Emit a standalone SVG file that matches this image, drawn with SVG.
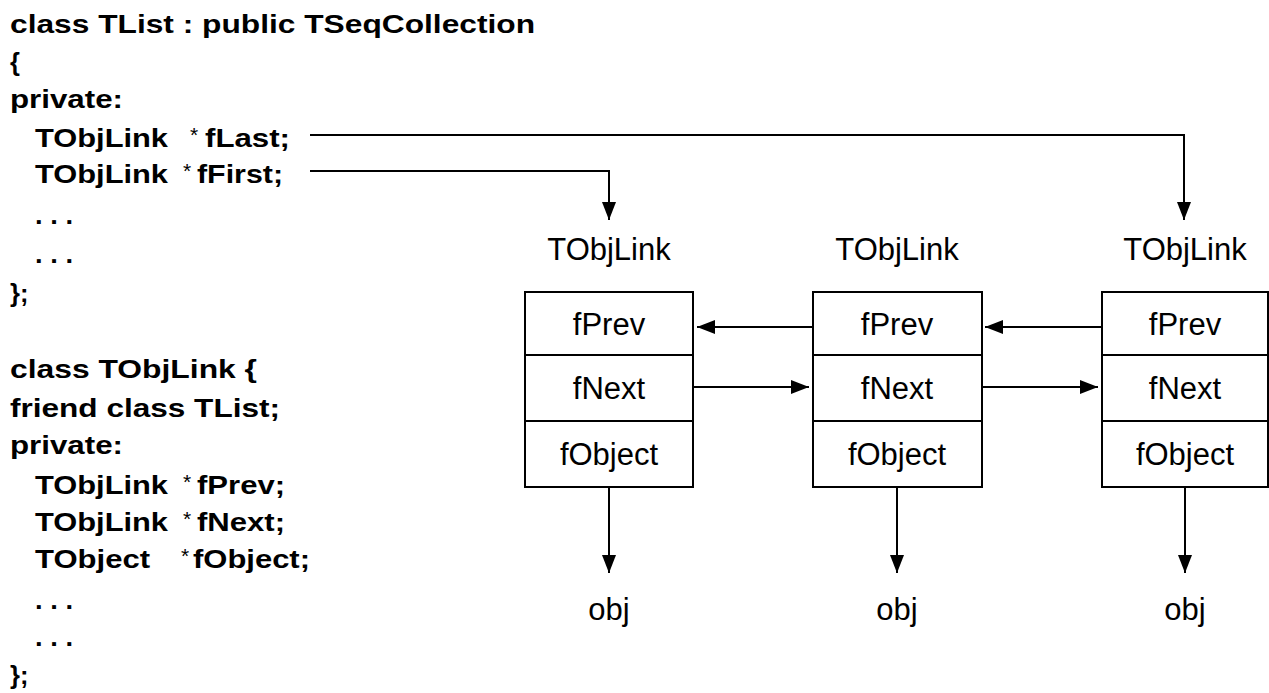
<svg xmlns="http://www.w3.org/2000/svg" width="1269" height="693" viewBox="0 0 1269 693">
<style>
.code{font-family:"Liberation Sans",Arial,sans-serif;font-weight:bold;font-size:25.5px;fill:#000}
.ast{font-family:"Liberation Sans",Arial,sans-serif;font-weight:normal;font-size:21px;fill:#000}
.lbl{font-family:"Liberation Sans",Arial,sans-serif;font-size:31px;fill:#000;text-anchor:middle}
.box{fill:#fff;stroke:#000;stroke-width:2}
.div{stroke:#000;stroke-width:2}
.con{fill:none;stroke:#000;stroke-width:2;marker-end:url(#ah)}
</style>
<defs>
<marker id="ah" viewBox="0 0 18 14" refX="18" refY="7" markerWidth="18" markerHeight="14" orient="auto" markerUnits="userSpaceOnUse">
<path d="M0,0 L18,7 L0,14 z" fill="#000"/>
</marker>
</defs>
<rect width="1269" height="693" fill="#fff"/>
<g id="code-tlist">
<text class="code" x="10" y="33" textLength="525" lengthAdjust="spacingAndGlyphs">class TList : public TSeqCollection</text>
<text class="code" x="10" y="71">{</text>
<text class="code" x="10" y="108" textLength="113" lengthAdjust="spacingAndGlyphs">private:</text>
<text class="code" x="35" y="147" textLength="133" lengthAdjust="spacingAndGlyphs">TObjLink</text>
<text class="ast" x="190" y="142">*</text>
<text class="code" x="205" y="147" textLength="85" lengthAdjust="spacingAndGlyphs">fLast;</text>
<text class="code" x="35" y="183" textLength="133" lengthAdjust="spacingAndGlyphs">TObjLink</text>
<text class="ast" x="183" y="178">*</text>
<text class="code" x="197" y="183" textLength="86" lengthAdjust="spacingAndGlyphs">fFirst;</text>
<text class="code" x="35" y="224" textLength="38" lengthAdjust="spacingAndGlyphs">. . .</text>
<text class="code" x="35" y="263" textLength="38" lengthAdjust="spacingAndGlyphs">. . .</text>
<text class="code" x="10" y="302">};</text>
</g>
<g id="code-tobjlink">
<text class="code" x="10" y="378" textLength="247" lengthAdjust="spacingAndGlyphs">class TObjLink {</text>
<text class="code" x="10" y="417" textLength="270" lengthAdjust="spacingAndGlyphs">friend class TList;</text>
<text class="code" x="10" y="454" textLength="113" lengthAdjust="spacingAndGlyphs">private:</text>
<text class="code" x="35" y="494" textLength="133" lengthAdjust="spacingAndGlyphs">TObjLink</text>
<text class="ast" x="183" y="489">*</text>
<text class="code" x="197" y="494" textLength="88" lengthAdjust="spacingAndGlyphs">fPrev;</text>
<text class="code" x="35" y="531" textLength="133" lengthAdjust="spacingAndGlyphs">TObjLink</text>
<text class="ast" x="183" y="526">*</text>
<text class="code" x="197" y="531" textLength="88" lengthAdjust="spacingAndGlyphs">fNext;</text>
<text class="code" x="35" y="568" textLength="115" lengthAdjust="spacingAndGlyphs">TObject</text>
<text class="ast" x="181" y="563">*</text>
<text class="code" x="193" y="568" textLength="117" lengthAdjust="spacingAndGlyphs">fObject;</text>
<text class="code" x="35" y="609" textLength="38" lengthAdjust="spacingAndGlyphs">. . .</text>
<text class="code" x="35" y="646" textLength="38" lengthAdjust="spacingAndGlyphs">. . .</text>
<text class="code" x="10" y="684">};</text>
</g>
<g id="link1">
<text class="lbl" x="609" y="260">TObjLink</text>
<rect class="box" x="525" y="292" width="168" height="195"/>
<line class="div" x1="525" y1="355" x2="693" y2="355"/>
<line class="div" x1="525" y1="421" x2="693" y2="421"/>
<text class="lbl" x="609" y="335">fPrev</text>
<text class="lbl" x="609" y="399">fNext</text>
<text class="lbl" x="609" y="465">fObject</text>
</g>
<g id="link2">
<text class="lbl" x="897" y="260">TObjLink</text>
<rect class="box" x="813" y="292" width="169" height="195"/>
<line class="div" x1="813" y1="355" x2="982" y2="355"/>
<line class="div" x1="813" y1="421" x2="982" y2="421"/>
<text class="lbl" x="897" y="335">fPrev</text>
<text class="lbl" x="897" y="399">fNext</text>
<text class="lbl" x="897" y="465">fObject</text>
</g>
<g id="link3">
<text class="lbl" x="1185" y="260">TObjLink</text>
<rect class="box" x="1102" y="292" width="166" height="195"/>
<line class="div" x1="1102" y1="355" x2="1268" y2="355"/>
<line class="div" x1="1102" y1="421" x2="1268" y2="421"/>
<text class="lbl" x="1185" y="335">fPrev</text>
<text class="lbl" x="1185" y="399">fNext</text>
<text class="lbl" x="1185" y="465">fObject</text>
</g>
<g id="obj1"><text class="lbl" x="609" y="620">obj</text></g>
<g id="obj2"><text class="lbl" x="897" y="620">obj</text></g>
<g id="obj3"><text class="lbl" x="1185" y="620">obj</text></g>
<g id="connectors">
<path class="con" d="M310,135 H1184 V220"/>
<path class="con" d="M310,171 H609 V220"/>
<path class="con" d="M813,327 H697"/>
<path class="con" d="M1102,327 H985"/>
<path class="con" d="M693,387 H809"/>
<path class="con" d="M982,387 H1098"/>
<path class="con" d="M609,487 V573"/>
<path class="con" d="M897,487 V573"/>
<path class="con" d="M1185,487 V573"/>
</g>
</svg>
